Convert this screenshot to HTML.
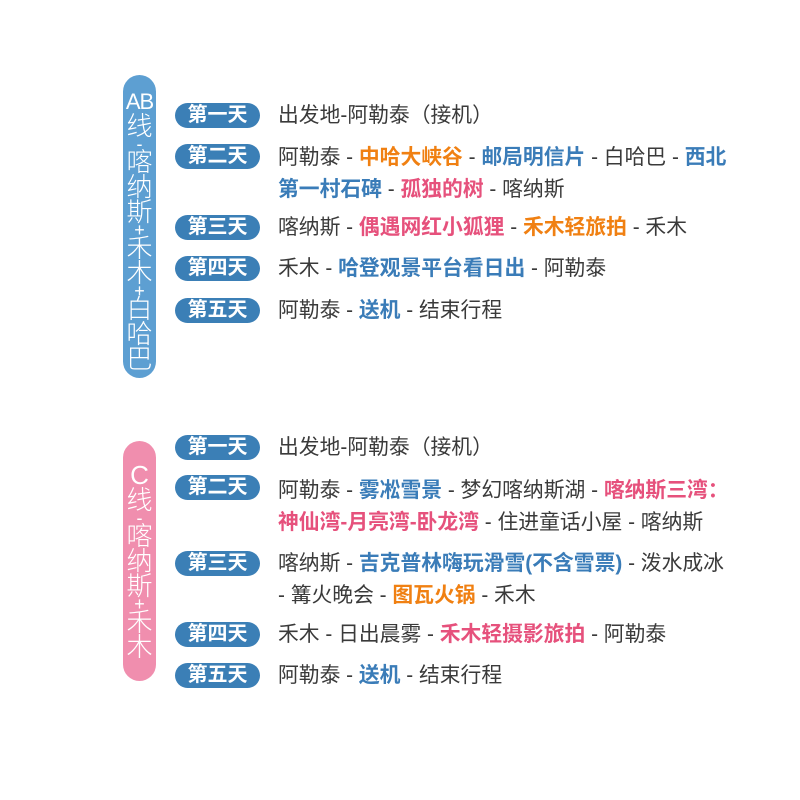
<!DOCTYPE html>
<html><head><meta charset="utf-8"><style>
body{margin:0;width:800px;height:800px;background:#fff;position:relative;overflow:hidden;font-family:"Liberation Sans","Noto Sans CJK SC",sans-serif;}
.bar{position:absolute;left:123px;width:33px;border-radius:17px;color:#fff;text-align:center;font-size:26px;font-weight:300;}
.bar div{height:25px;line-height:25px;}
.bar div.s{height:11px;line-height:11px;font-size:18px;}
.bar div.ab{font-size:22px;letter-spacing:-1px;}
.pill{position:absolute;left:175px;width:85px;height:25px;border-radius:13px;background:#3b7fb6;color:#fff;font-weight:bold;font-size:20px;line-height:25px;text-align:center;}
.t{position:absolute;left:278px;font-size:20.8px;color:#3a3a3a;white-space:nowrap;line-height:26px;}
.b{color:#3a7cb8;font-weight:bold}.o{color:#f08012;font-weight:bold}.p{color:#e6517c;font-weight:bold}
</style></head><body>
<div class="bar" style="top:75px;height:303px;background:#5d9fd2;padding-top:14px;box-sizing:border-box;">
<div class="ab">AB</div><div>线</div><div class="s">-</div><div>喀</div><div>纳</div><div>斯</div><div class="s">+</div><div>禾</div><div>木</div><div class="s">+</div><div>白</div><div>哈</div><div>巴</div></div>
<div class="bar" style="top:441px;height:240px;background:#f08eae;padding-top:22px;box-sizing:border-box;">
<div>C</div><div>线</div><div class="s">-</div><div>喀</div><div>纳</div><div>斯</div><div class="s">+</div><div>禾</div><div>木</div></div>

<div class="pill" style="top:103px">第一天</div>
<div class="t" style="top:103px">出发地-阿勒泰（接机）</div>
<div class="pill" style="top:144px">第二天</div>
<div class="t" style="top:145px">阿勒泰 - <span class="o">中哈大峡谷</span> - <span class="b">邮局明信片</span> - 白哈巴 - <span class="b">西北</span></div>
<div class="t" style="top:177px"><span class="b">第一村石碑</span> - <span class="p">孤独的树</span> - 喀纳斯</div>
<div class="pill" style="top:215px">第三天</div>
<div class="t" style="top:215px">喀纳斯 - <span class="p">偶遇网红小狐狸</span> - <span class="o">禾木轻旅拍</span> - 禾木</div>
<div class="pill" style="top:256px">第四天</div>
<div class="t" style="top:256px">禾木 - <span class="b">哈登观景平台看日出</span> - 阿勒泰</div>
<div class="pill" style="top:298px">第五天</div>
<div class="t" style="top:298px">阿勒泰 - <span class="b">送机</span> - 结束行程</div>

<div class="pill" style="top:435px">第一天</div>
<div class="t" style="top:435px">出发地-阿勒泰（接机）</div>
<div class="pill" style="top:475px">第二天</div>
<div class="t" style="top:478px">阿勒泰 - <span class="b">雾凇雪景</span> - 梦幻喀纳斯湖 - <span class="p">喀纳斯三湾：</span></div>
<div class="t" style="top:510px"><span class="p">神仙湾-月亮湾-卧龙湾</span> - 住进童话小屋 - 喀纳斯</div>
<div class="pill" style="top:551px">第三天</div>
<div class="t" style="top:551px">喀纳斯 - <span class="b">吉克普林嗨玩滑雪(不含雪票)</span> - 泼水成冰</div>
<div class="t" style="top:583px">- 篝火晚会 - <span class="o">图瓦火锅</span> - 禾木</div>
<div class="pill" style="top:622px">第四天</div>
<div class="t" style="top:622px">禾木 - 日出晨雾 - <span class="p">禾木轻摄影旅拍</span> - 阿勒泰</div>
<div class="pill" style="top:663px">第五天</div>
<div class="t" style="top:663px">阿勒泰 - <span class="b">送机</span> - 结束行程</div>
</body></html>
